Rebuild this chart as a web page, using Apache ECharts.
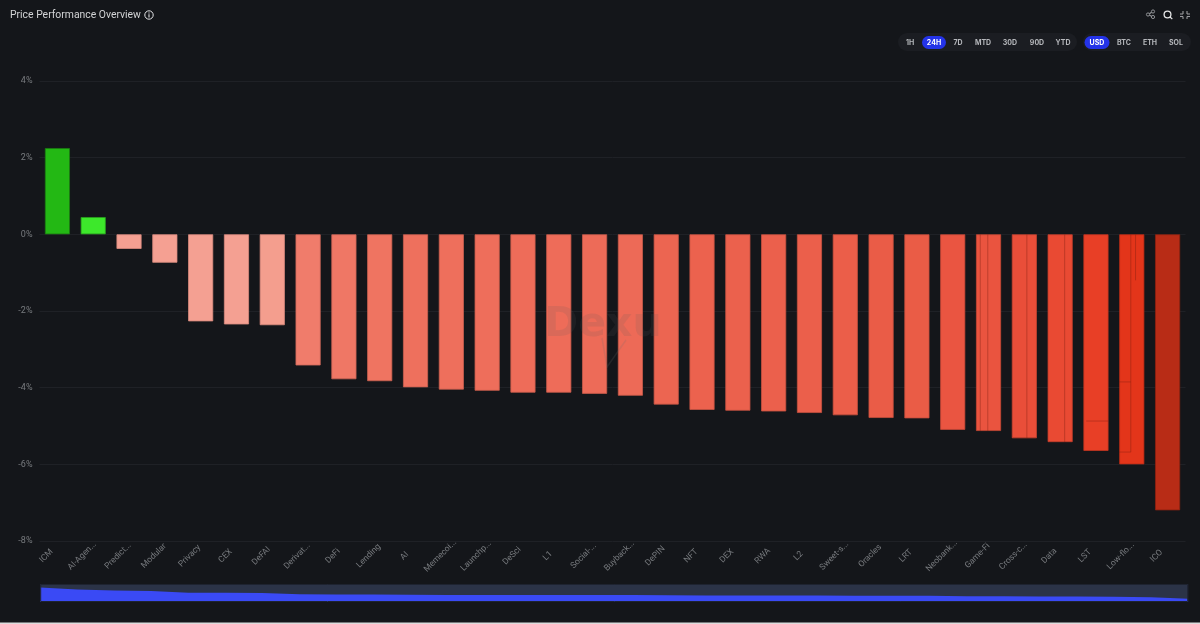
<!DOCTYPE html>
<html>
<head>
<meta charset="utf-8">
<title>Price Performance Overview</title>
<script src="https://cdn.jsdelivr.net/npm/echarts@6/dist/echarts.min.js"></script>
<style>
  html, body { margin: 0; padding: 0; background: #14161a; }
  #chart { width: 1200px; height: 624px; }
</style>
</head>
<body>
<div id="chart"></div>
<script>
const categories = ["ICM", "AI-Agen...", "Predict...", "Modular", "Privacy", "CEX", "DeFAI", "Derivat...", "DeFi", "Lending", "AI", "Memecoi...", "Launchp...", "DeSci", "L1", "Social-...", "Buyback...", "DePIN", "NFT", "DEX", "RWA", "L2", "Sweet-s...", "Oracles", "LRT", "Neobank...", "Game-Fi", "Cross-c...", "Data", "LST", "Low-flo...", "ICO"];
const changes = [2.25, 0.45, -0.38, -0.74, -2.27, -2.35, -2.37, -3.42, -3.78, -3.83, -3.99, -4.05, -4.08, -4.13, -4.13, -4.16, -4.21, -4.44, -4.58, -4.6, -4.62, -4.66, -4.72, -4.79, -4.8, -5.1, -5.13, -5.32, -5.42, -5.65, -6.0, -7.2];

// thin darker lines that show up inside some of the bars: category, value from, value to
const innerLineCats = [26, 26, 27, 28, 29, 30, 30, 30, 30];
const innerLineFrom = [0, 0, 0, 0, -4.87, 0, 0, -3.85, -5.68];
const innerLineTo = [-5.13, -5.13, -5.32, -5.42, -4.87, -5.68, -1.2, -3.85, -5.68];

const timeRanges = ["1H", "24H", "7D", "MTD", "30D", "90D", "YTD"];
const currencies = ["USD", "BTC", "ETH", "SOL"];

const barColors = ["#23b814", "#3de82b", "#f5a092", "#f5a092", "#f4a092", "#f4a092", "#f49e8e", "#f07c6b", "#ef7765", "#ef7461", "#ee705d", "#ee6f5c", "#ee6e5b", "#ee6c59", "#ee6c59", "#ed6b58", "#ed6a57", "#ec6551", "#ec624e", "#eb614d", "#eb604c", "#eb5f4b", "#eb5e49", "#ea5c47", "#ea5c46", "#ea5541", "#ea543f", "#e94e39", "#e94a33", "#e83f26", "#e3351a", "#b82c16"];
const barBorders = ["#1a7d10", "#2aa31e", "#d98a7d", "#d98a7d", "#d98a7d", "#d98a7d", "#d98a7d", "#cf6a5b", "#cc6555", "#cc6252", "#c95f4f", "#c95f4f", "#c95e4d", "#c95c4b", "#c95c4b", "#c85b4a", "#c85a49", "#c75545", "#c65342", "#c65241", "#c65140", "#c65040", "#c64f3e", "#c54e3c", "#c54e3b", "#c54837", "#c54735", "#c44230", "#c43e2b", "#c33520", "#bd2c15", "#8e2210"];

// x position of each inner line across the bar, 0 = left edge and 1 = right edge
const innerLineX = [[0.17, 0.17], [0.47, 0.47], [0.6, 0.6], [0.68, 0.68], [0.11, 1], [0.46, 0.46], [0.65, 0.65], [0, 0.46], [0, 0.46]];

const barWidthRatio = 0.7;

function pillButtons(labels, centers, active, activeBox) {
  const items = [];
  items.push({
    type: "rect",
    shape: { x: activeBox[0], y: 36, width: activeBox[1], height: 13, r: 6.5 },
    style: { fill: "#2433e8" },
  });
  labels.forEach((label, i) => {
    items.push({
      type: "text",
      style: {
        x: centers[i],
        y: 42.5,
        text: label,
        align: "center",
        verticalAlign: "middle",
        fill: label === active ? "#ffffff" : "#b6b8bc",
        font: "700 7px Inter",
      },
    });
  });
  return items;
}

function iconLine(x1, y1, x2, y2, color) {
  return {
    type: "line",
    shape: { x1, y1, x2, y2 },
    style: { stroke: color, lineWidth: 1.1 },
  };
}

const headerGraphics = [
  { type: "rect", shape: { x: 0, y: 622.5, width: 1200, height: 2 }, style: { fill: "#dcdcdc" } },
  {
    type: "text",
    style: { x: 10, y: 15, text: "Price Performance Overview", fill: "#d3d4d6", font: "10.4px Roboto", verticalAlign: "middle" },
  },
  { type: "circle", shape: { cx: 149, cy: 15, r: 4.2 }, style: { fill: "none", stroke: "#e2e3e5", lineWidth: 1 } },
  iconLine(149, 14.2, 149, 17.4, "#e2e3e5"),
  iconLine(149, 12.4, 149, 13.4, "#e2e3e5"),

  // share icon
  { type: "circle", shape: { cx: 1153, cy: 11.5, r: 1.6 }, style: { fill: "none", stroke: "#9a9c9f", lineWidth: 0.9 } },
  { type: "circle", shape: { cx: 1148, cy: 14.5, r: 1.6 }, style: { fill: "none", stroke: "#9a9c9f", lineWidth: 0.9 } },
  { type: "circle", shape: { cx: 1153, cy: 17, r: 1.6 }, style: { fill: "none", stroke: "#9a9c9f", lineWidth: 0.9 } },
  iconLine(1149.4, 13.7, 1151.6, 12.3, "#9a9c9f"),
  iconLine(1149.4, 15.3, 1151.6, 16.2, "#9a9c9f"),

  // search icon
  { type: "circle", shape: { cx: 1167.5, cy: 14.5, r: 3.4 }, style: { fill: "none", stroke: "#e6e7e8", lineWidth: 1.3 } },
  iconLine(1170, 17, 1172.3, 19, "#e6e7e8"),

  // collapse icon
  iconLine(1183, 11, 1183, 14, "#9a9c9f"), iconLine(1183, 14, 1180, 14, "#9a9c9f"),
  iconLine(1187, 11, 1187, 14, "#9a9c9f"), iconLine(1187, 14, 1190, 14, "#9a9c9f"),
  iconLine(1183, 19, 1183, 16.5, "#9a9c9f"), iconLine(1183, 16.5, 1180, 16.5, "#9a9c9f"),
  iconLine(1187, 19, 1187, 16.5, "#9a9c9f"), iconLine(1187, 16.5, 1190, 16.5, "#9a9c9f"),

  // range and currency switches
  { type: "rect", shape: { x: 898, y: 33, width: 179, height: 18, r: 9 }, style: { fill: "#1b1d22" } },
  { type: "rect", shape: { x: 1083, y: 33, width: 108, height: 18, r: 9 }, style: { fill: "#1b1d22" } },
  ...pillButtons(timeRanges, [910, 934, 958, 983, 1010, 1037, 1063], "24H", [922, 24]),
  ...pillButtons(currencies, [1097, 1124, 1150, 1176], "USD", [1084.5, 25]),

  // watermark
  {
    type: "text",
    z: 50,
    style: {
      x: 603, y: 325, text: "Dexu", align: "center", verticalAlign: "middle",
      fill: "rgba(90,90,90,0.14)", font: "700 41px 'DejaVu Sans'",
    },
  },
  {
    type: "polyline",
    z: 50,
    shape: { points: [[602, 338], [607, 367], [626, 340]] },
    style: { fill: "none", stroke: "rgba(110,110,110,0.18)", lineWidth: 1.5 },
  },
];

const chart = echarts.init(document.getElementById("chart"));
chart.setOption({
  backgroundColor: "#14161a",
  animation: false,
  graphic: { elements: headerGraphics },
  grid: { left: 39.5, top: 81, width: 1146, height: 460 },
  xAxis: {
    type: "category",
    data: categories,
    axisLine: { show: false, onZero: false },
    axisTick: { show: false },
    splitLine: { show: false },
    axisLabel: {
      interval: 0,
      rotate: 45,
      align: "center",
      verticalAlign: "middle",
      padding: [0, 31, 0, 0],
      margin: 4,
      color: "#787b7f",
      fontSize: 8.5,
      fontFamily: "Roboto",
    },
  },
  yAxis: {
    type: "value",
    min: -8,
    max: 4,
    interval: 2,
    axisLine: { show: false },
    axisTick: { show: false },
    splitLine: { lineStyle: { color: "#1f2126", width: 1 } },
    axisLabel: {
      formatter: "{value}%",
      margin: 7,
      color: "#787b7f",
      fontSize: 9,
      fontFamily: "Roboto",
    },
  },
  dataZoom: [
    {
      type: "slider",
      xAxisIndex: 0,
      left: 37.7,
      width: 1148,
      top: 584,
      height: 18,
      start: 0,
      end: 100,
      showDetail: false,
      showDataShadow: true,
      brushSelect: false,
      borderColor: "#1e2330",
      backgroundColor: "#2b3347",
      fillerColor: "rgba(0,0,0,0)",
      handleSize: 0,
      moveHandleSize: 0,
      handleStyle: { opacity: 0 },
      dataBackground: {
        lineStyle: { opacity: 0 },
        areaStyle: { color: "#3a4af5", opacity: 1 },
      },
      selectedDataBackground: {
        lineStyle: { opacity: 0 },
        areaStyle: { color: "#3a4af5", opacity: 1 },
      },
    },
  ],
  series: [
    {
      type: "bar",
      barWidth: barWidthRatio * 100 + "%",
      data: changes.map((value, i) => ({
        value,
        itemStyle: { color: barColors[i], borderColor: barBorders[i], borderWidth: 0.8 },
      })),
    },
    {
      type: "custom",
      silent: true,
      z: 5,
      data: innerLineCats.map((cat, i) => [cat, innerLineFrom[i], innerLineTo[i], i]),
      encode: { x: 0, y: [1, 2] },
      renderItem(params, api) {
        const from = api.coord([api.value(0), api.value(1)]);
        const to = api.coord([api.value(0), api.value(2)]);
        const barSize = api.size([1, 0])[0] * barWidthRatio;
        const [startX, endX] = innerLineX[api.value(3)];
        const barLeft = from[0] - barSize / 2;
        return {
          type: "line",
          shape: {
            x1: barLeft + startX * barSize,
            y1: from[1],
            x2: barLeft + endX * barSize,
            y2: to[1],
          },
          style: { stroke: "rgba(120,30,15,0.38)", lineWidth: 1 },
        };
      },
    },
  ],
});
</script>
</body>
</html>
